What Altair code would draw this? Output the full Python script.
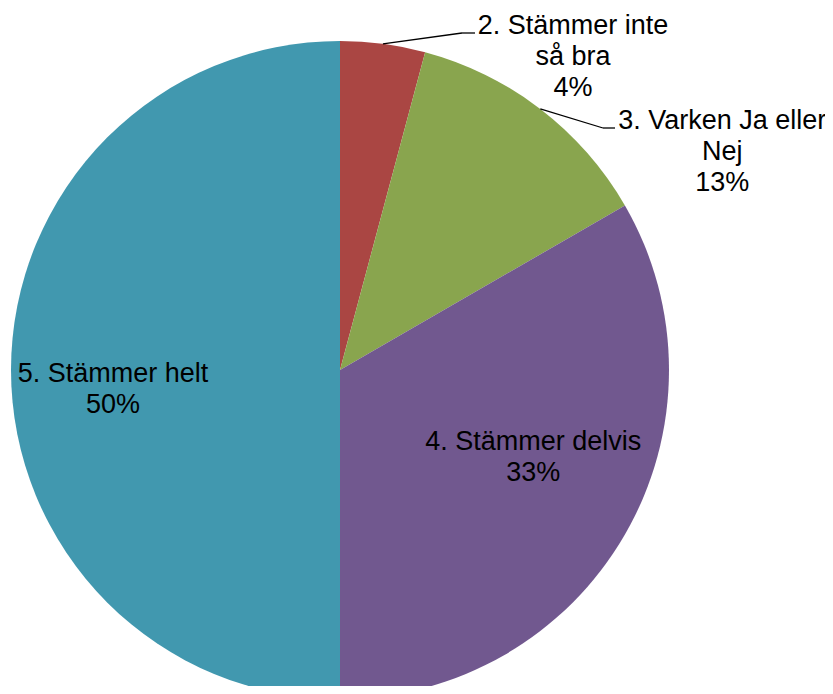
import altair as alt
import pandas as pd

categories = ["2. Stämmer inte så bra", "3. Varken Ja eller Nej", "4. Stämmer delvis", "5. Stämmer helt"]
counts = [1, 3, 8, 12]
percent_labels = ["4%", "13%", "33%", "50%"]
label_lines = ["2. Stämmer inte\nså bra", "3. Varken Ja eller\nNej", "4. Stämmer delvis", "5. Stämmer helt"]
colors = ["#AA4643", "#89A54E", "#71588F", "#4198AF"]

df = pd.DataFrame({
    "category": categories,
    "count": counts,
    "label": [f"{a}\n{b}" for a, b in zip(label_lines, percent_labels)],
})

CX, CY, R = 332, 362, 329
FONT = "Liberation Sans"
FS = 27

pie = alt.Chart(df).mark_arc(outerRadius=R, x=CX, y=CY).encode(
    theta=alt.Theta("count:Q", stack=True),
    order=alt.Order("category:N", sort="ascending"),
    color=alt.Color("category:N", scale=alt.Scale(domain=categories, range=colors), legend=None),
)

# slice mid-angles computed from the data
angles = alt.Chart(df).transform_joinaggregate(
    total="sum(count)"
).transform_window(
    cum="sum(count)", sort=[alt.SortField("category", order="ascending")]
).transform_calculate(
    mid="2*PI*(datum.cum - datum.count/2)/datum.total",
)

def label_layer(cat, radius, dx, dy):
    return angles.transform_filter(alt.datum.category == cat).transform_calculate(
        tx=f"{CX} + {radius}*sin(datum.mid)",
        ty=f"{CY} - {radius}*cos(datum.mid)",
    ).mark_text(
        dx=dx, dy=dy, font=FONT, fontSize=FS,
        lineBreak="\n", lineHeight=31, align="center", baseline="middle", color="black"
    ).encode(
        x=alt.X("tx:Q", scale=None, axis=None),
        y=alt.Y("ty:Q", scale=None, axis=None),
        text="label:N",
    )

labels = [
    label_layer(categories[0], R, 190, -18),
    label_layer(categories[1], R, 182, 12),
    label_layer(categories[2], 200, 20, -28),
    label_layer(categories[3], 219, -8, 4),
]

def leader(cat, elbow, end):
    seg1 = angles.transform_filter(alt.datum.category == cat).transform_calculate(
        ex=f"{CX} + {R}*sin(datum.mid)",
        ey=f"{CY} - {R}*cos(datum.mid)",
    ).mark_rule(color="black", strokeWidth=1.3).encode(
        x=alt.X("ex:Q", scale=None, axis=None),
        y=alt.Y("ey:Q", scale=None, axis=None),
        x2=alt.value(elbow[0]),
        y2=alt.value(elbow[1]),
    )
    seg2 = alt.Chart(df).transform_filter(alt.datum.category == cat).mark_rule(
        color="black", strokeWidth=1.3
    ).encode(
        x=alt.value(elbow[0]), y=alt.value(elbow[1]),
        x2=alt.value(end[0]), y2=alt.value(end[1]),
    )
    return [seg1, seg2]

leaders = leader(categories[0], (454, 25), (467, 25)) + leader(categories[1], (595, 120), (607, 120))

chart = alt.layer(pie, *leaders, *labels).properties(
    width=817, height=678, padding=0,
    autosize=alt.AutoSizeParams(type="none"),
).configure_view(stroke=None)

chart.save("out.html", embed_options={"renderer": "svg", "actions": False})
